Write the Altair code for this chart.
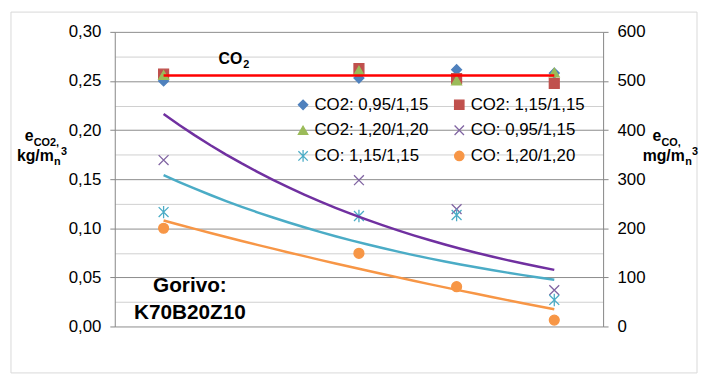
import altair as alt
import pandas as pd

# ---------------- data ----------------
temps = [950, 1150, 1250, 1350]
co2_names = ["CO2: 0,95/1,15", "CO2: 1,15/1,15", "CO2: 1,20/1,20"]
co_names = ["CO: 0,95/1,15", "CO: 1,15/1,15", "CO: 1,20/1,20"]
co2_095 = [0.250, 0.253, 0.2615, 0.258]
co2_115 = [0.257, 0.2625, 0.2525, 0.2475]
co2_120 = [0.256, 0.2605, 0.2505, 0.2585]
co_095 = [339, 298, 239, 74]
co_115 = [233, 225, 227, 54]
co_120 = [200, 149, 81, 13]

x_ticks = list(range(900, 1401, 50))
left_ticks = [round(i * 0.025, 3) for i in range(13)]
right_ticks = list(range(0, 601, 100))

# ---------------- styles ----------------
FONT = "Liberation Sans"
# the legend is laid out column by column: this order gives the reference's rows
legend_order = [co2_names[0], co2_names[2], co_names[1],
                co2_names[1], co_names[0], co_names[2]]
series_colors = {
    co2_names[0]: "#4F81BD", co2_names[1]: "#C0504D", co2_names[2]: "#9BBB59",
    co_names[0]: "#8064A2", co_names[1]: "#4BACC6", co_names[2]: "#F79646",
}
X_PATH = "M-1,-1L1,1M-1,1L1,-1"
STAR_PATH = "M-1,-1L1,1M-1,1L1,-1M0,-1.25L0,1.25"
series_shapes = {
    co2_names[0]: "diamond", co2_names[1]: "square", co2_names[2]: "triangle-up",
    co_names[0]: X_PATH, co_names[1]: STAR_PATH, co_names[2]: "circle",
}

rows = []
for name, vals in zip(co2_names, [co2_095, co2_115, co2_120]):
    for t, v in zip(temps, vals):
        rows.append({"T": t, "v": v, "series": name})
co2_df = pd.DataFrame(rows)
rows = []
for name, vals in zip(co_names, [co_095, co_115, co_120]):
    for t, v in zip(temps, vals):
        rows.append({"T": t, "v": v, "series": name})
co_df = pd.DataFrame(rows)

W, H = 494, 298
xscale = alt.Scale(domain=[900, 1400], nice=False, zero=False)
lscale = alt.Scale(domain=[0, 0.30], nice=False)
rscale = alt.Scale(domain=[0, 600], nice=False)

AXC = "#868686"
MAJ = "round(datum.value*1000) % 50 == 0"
XMAJ = "datum.value % 100 == 0"

x_axis = alt.Axis(
    values=x_ticks, grid=True, gridColor="#cfcfcf", gridWidth=1,
    labelExpr=f"{XMAJ} ? format(datum.value, 'd') : ''",
    tickOpacity={"condition": {"test": XMAJ, "value": 1}, "value": 0},
    tickSize=5, tickColor=AXC, domainColor=AXC, labelPadding=6,
    labelFont=FONT, labelFontSize=17, labelColor="black",
    title="Temperatura, °C", titleFont=FONT, titleFontSize=17,
    titleFontWeight="bold", titleColor="black", titlePadding=5,
)
left_axis = alt.Axis(
    values=left_ticks, grid=True,
    gridColor={"condition": {"test": MAJ, "value": "#8c8c8c"}, "value": "#cfcfcf"},
    labelExpr=f"{MAJ} ? replace(format(datum.value, '.2f'), '.', ',') : ''",
    tickOpacity={"condition": {"test": MAJ, "value": 1}, "value": 0},
    tickSize=5, tickColor=AXC, domainColor=AXC, labelPadding=9,
    labelFont=FONT, labelFontSize=17, labelColor="black", title=None,
)
right_axis = alt.Axis(
    orient="right", values=right_ticks, grid=False, format="d",
    tickSize=5, tickColor=AXC, domainColor=AXC, labelPadding=9,
    labelFont=FONT, labelFontSize=17, labelColor="black", title=None,
)

legend = alt.Legend(
    title=None, orient="none", legendX=182, legendY=65, columns=2,
    labelFont=FONT, labelFontSize=17, labelColor="black", labelLimit=0,
    symbolSize=90, symbolStrokeWidth=1.3, labelOffset=3,
    rowPadding=8, columnPadding=22,
)

shape_enc = alt.Shape("series:N", scale=alt.Scale(domain=legend_order, range=[series_shapes[n] for n in legend_order]), legend=legend)
fill_enc = alt.Fill("series:N", scale=alt.Scale(domain=legend_order, range=[series_colors[n] for n in legend_order]), legend=legend)
stroke_enc = alt.Stroke("series:N", scale=alt.Scale(domain=legend_order, range=[series_colors[n] for n in legend_order]), legend=legend)

one = alt.Data(values=[{}])

border = alt.Chart(one).mark_rect(fillOpacity=0, stroke="#d9d9d9", strokeWidth=1).encode(
    x=alt.value(-105), x2=alt.value(589), y=alt.value(-20), y2=alt.value(345)
)

co2_pts = alt.Chart(co2_df).mark_point(filled=True, size=100, strokeWidth=1.3, opacity=1).encode(
    x=alt.X("T:Q", scale=xscale, axis=x_axis),
    y=alt.Y("v:Q", scale=lscale, axis=left_axis),
    shape=shape_enc, fill=fill_enc, stroke=stroke_enc,
)
co_pts = alt.Chart(co_df).mark_point(filled=True, size=100, strokeWidth=1.3, opacity=1).encode(
    x=alt.X("T:Q", scale=xscale, axis=None),
    y=alt.Y("v:Q", scale=rscale, axis=right_axis),
    shape=shape_enc, fill=fill_enc, stroke=stroke_enc,
)

co2_line = alt.Chart(co2_df).mark_rule(color="#FF0000", strokeWidth=2.5).encode(
    x=alt.X("min(T):Q", scale=xscale, axis=None),
    x2="max(T):Q",
    y=alt.Y("mean(v):Q", scale=lscale, axis=None),
)


def exp_trend(name, color):
    # Excel-style exponential trend: least squares on ln(y), then back-transform
    return (
        alt.Chart(co_df)
        .transform_filter(alt.datum.series == name)
        .transform_calculate(lnv="log(datum.v)")
        .transform_regression("T", "lnv", method="poly", order=1, extent=[950, 1350])
        .transform_calculate(fit="exp(datum.lnv)")
        .mark_line(color=color, strokeWidth=2.5)
        .encode(
            x=alt.X("T:Q", scale=xscale, axis=None),
            y=alt.Y("fit:Q", scale=rscale, axis=None),
        )
    )


def log_trend(name, color):
    return (
        alt.Chart(co_df)
        .transform_filter(alt.datum.series == name)
        .transform_regression("T", "v", method="log", extent=[950, 1350])
        .mark_line(color=color, strokeWidth=2.5)
        .encode(
            x=alt.X("T:Q", scale=xscale, axis=None),
            y=alt.Y("v:Q", scale=rscale, axis=None),
        )
    )


trends = [
    exp_trend(co_names[0], "#7030A0"),
    exp_trend(co_names[1], "#4BACC6"),
    log_trend(co_names[2], "#F79646"),
]


def label(text, x, y, size, align="left"):
    return alt.Chart(one).mark_text(
        text=text, font=FONT, fontSize=size, fontWeight="bold", color="black",
        align=align, baseline="alphabetic",
    ).encode(x=alt.value(x), y=alt.value(y))


texts = [
    # CO2 annotation
    label("CO", 105, 32, 16), label("2", 130, 37, 11),
    # fuel annotation
    label("Gorivo:", 76, 263, 21, "center"), label("K70B20Z10", 76, 290, 21, "center"),
    # left axis title
    label("e", -91, 110.5, 16), label("CO2,", -82, 115, 11),
    label("kg/m", -99, 131, 16), label("n", -61.5, 135, 11), label("3", -54.5, 125, 11),
    # right axis title
    label("e", 544, 110.5, 16), label("CO,", 553, 115, 11),
    label("mg/m", 534, 131, 16), label("n", 577, 135, 11), label("3", 584, 125, 11),
]

chart = (
    alt.layer(border, co2_pts, co_pts, co2_line, *trends, *texts)
    .resolve_scale(y="independent")
    .properties(
        width=W, height=H,
        autosize=alt.AutoSizeParams(type="none"),
        padding={"left": 108, "top": 22, "right": 97, "bottom": 52},
    )
    .configure_view(stroke=None)
)

chart.save("out.html", embed_options={"renderer": "svg", "actions": False})
